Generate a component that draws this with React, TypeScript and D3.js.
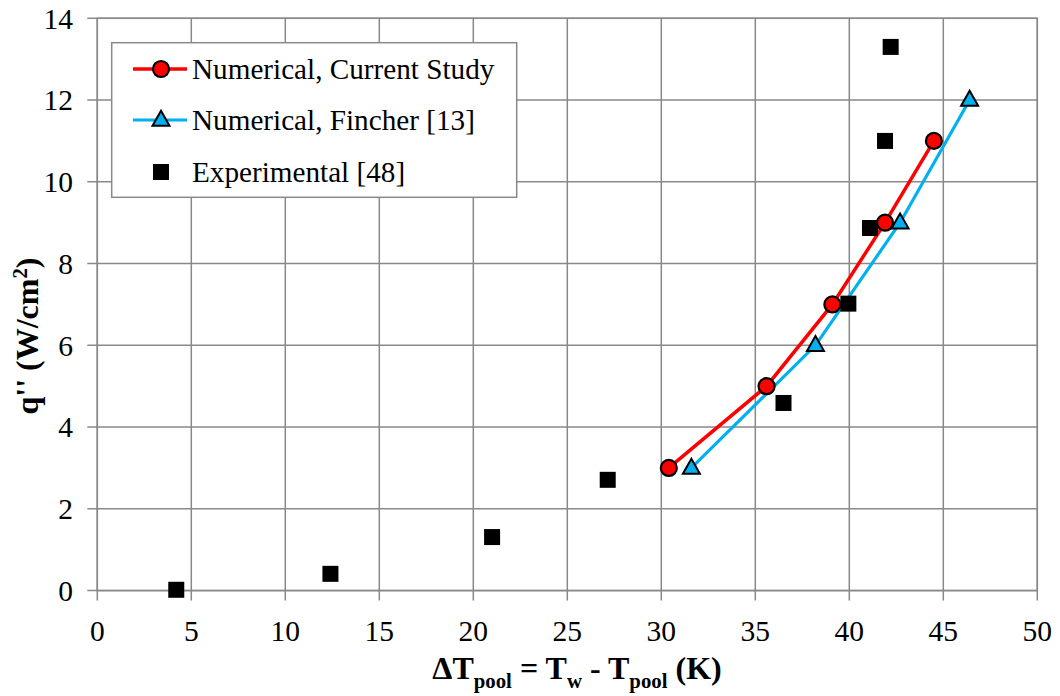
import React from "react";
import * as d3 from "d3";

const currentX = [30.4, 35.6, 39.1, 41.9, 44.5];
const currentY = [3, 5, 7, 9, 11];
const fincherX = [31.6, 38.2, 42.7, 46.4];
const fincherY = [3, 6, 9, 12];
const expX = [4.2, 12.4, 21.0, 27.15, 36.5, 39.95, 41.1, 41.9, 42.2];
const expY = [0.02, 0.41, 1.31, 2.71, 4.59, 7.02, 8.87, 11.0, 13.3];
const xTicks = [0, 5, 10, 15, 20, 25, 30, 35, 40, 45, 50];
const yTicks = [0, 2, 4, 6, 8, 10, 12, 14];
const legendLabels = ["Numerical, Current Study", "Numerical, Fincher [13]", "Experimental [48]"];

const FONT = "Liberation Serif";
const GRID = "#898989";

export default function App() {
  const W = 1060, H = 696;
  const left = 97.3, right = 1037.3, top = 18.3, bottom = 590.6;
  const x = d3.scaleLinear().domain([0, 50]).range([left, right]);
  const y = d3.scaleLinear().domain([0, 14]).range([bottom, top]);
  const line = d3.line<[number, number]>().x(d => x(d[0])).y(d => y(d[1]));
  const cur: [number, number][] = currentX.map((v, i) => [v, currentY[i]]);
  const fin: [number, number][] = fincherX.map((v, i) => [v, fincherY[i]]);
  const tri = (cx: number, cy: number, s = 17) => {
    const h = s * 0.88;
    return `M${cx},${cy - h * 0.62} L${cx + s / 2},${cy + h * 0.38} L${cx - s / 2},${cy + h * 0.38} Z`;
  };
  const fs = 29.5;
  const lfs = 29.2;
  const tfs = 32;
  const ts = { fontFamily: FONT };
  const legX = 111.7, legY = 42.7, legW = 405, legH = 154.6;
  const rows = [69, 120, 172];
  return (
    <svg width={W} height={H} style={{ position: "absolute", left: 0, top: 0, background: "#fff", fontFamily: FONT }}>
      <rect x={0} y={0} width={W} height={H} fill="#fff" />
      {xTicks.map(t => (
        <g key={"xg" + t}>
          <line x1={x(t)} x2={x(t)} y1={top} y2={bottom + 10} stroke={GRID} strokeWidth={1.5} />
          <text x={x(t)} y={640.5} textAnchor="middle" fontSize={fs} fill="#000" style={ts}>{t}</text>
        </g>
      ))}
      {yTicks.map(t => (
        <g key={"yg" + t}>
          <line x1={left - 10} x2={right} y1={y(t)} y2={y(t)} stroke={GRID} strokeWidth={1.5} />
          <text x={73} y={y(t)} dy="0.35em" textAnchor="end" fontSize={fs} fill="#000" style={ts}>{t}</text>
        </g>
      ))}
      <rect x={left} y={top} width={right - left} height={bottom - top} fill="none" stroke={GRID} strokeWidth={1.5} />

      <path d={line(fin) || ""} fill="none" stroke="#00B0F0" strokeWidth={3.2} />
      <path d={line(cur) || ""} fill="none" stroke="#FF0000" strokeWidth={3.5} />
      {expX.map((v, i) => (
        <rect key={"e" + i} x={x(v) - 8} y={y(expY[i]) - 8} width={16} height={16} fill="#000" />
      ))}
      {fin.map((d, i) => (
        <path key={"f" + i} d={tri(x(d[0]), y(d[1]))} fill="#00B0F0" stroke="#000" strokeWidth={2} />
      ))}
      {cur.map((d, i) => (
        <circle key={"c" + i} cx={x(d[0])} cy={y(d[1])} r={8} fill="#FF0000" stroke="#000" strokeWidth={2.2} />
      ))}

      <rect x={legX} y={legY} width={legW} height={legH} fill="#fff" stroke={GRID} strokeWidth={1.5} />
      <line x1={133} x2={187} y1={rows[0]} y2={rows[0]} stroke="#FF0000" strokeWidth={3.5} />
      <circle cx={161} cy={rows[0]} r={8} fill="#FF0000" stroke="#000" strokeWidth={2.2} />
      <line x1={133} x2={187} y1={rows[1]} y2={rows[1]} stroke="#00B0F0" strokeWidth={3.2} />
      <path d={tri(161, rows[1])} fill="#00B0F0" stroke="#000" strokeWidth={2} />
      <rect x={153} y={rows[2] - 8} width={16} height={16} fill="#000" />
      {legendLabels.map((l, i) => (
        <text key={l} x={192} y={rows[i]} dy="0.35em" fontSize={lfs} fill="#000" style={ts}>{l}</text>
      ))}

      <text x={577} y={679} textAnchor="middle" fontSize={tfs} fontWeight="bold" fill="#000" style={ts}>
        ΔT<tspan fontSize={tfs * 0.65} dy={9}>pool</tspan>
        <tspan dy={-9}> = T</tspan>
        <tspan fontSize={tfs * 0.65} dy={9}>w</tspan>
        <tspan dy={-9}> - T</tspan>
        <tspan fontSize={tfs * 0.65} dy={9}>pool</tspan>
        <tspan dy={-9}> (K)</tspan>
      </text>
      <text transform="translate(38,336) rotate(-90)" textAnchor="middle" fontSize={tfs} fontWeight="bold" fill="#000" style={ts}>
        q'' (W/cm<tspan fontSize={tfs * 0.65} dy={-11}>2</tspan><tspan dy={11}>)</tspan>
      </text>
    </svg>
  );
}
